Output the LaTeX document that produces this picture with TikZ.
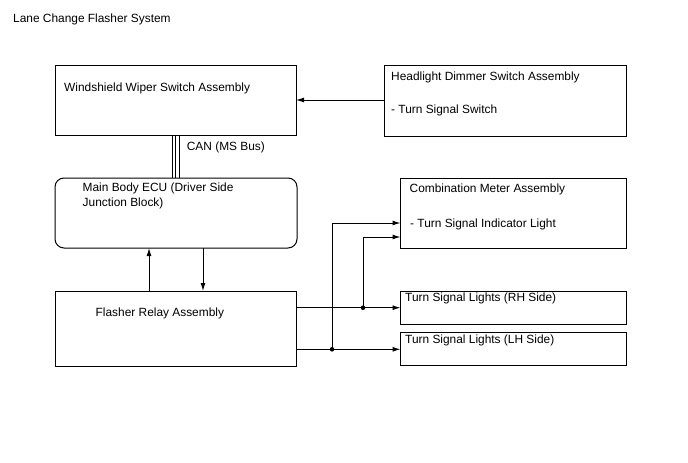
\documentclass[tikz,border=0pt]{standalone}
\usepackage{fontspec}
\setmainfont{Liberation Sans}
\usetikzlibrary{arrows.meta}
\begin{document}
\begin{tikzpicture}[x=1pt,y=-1pt,
  box/.style={draw=black,line width=1pt},
  wire/.style={draw=black,line width=1pt},
  arr/.style={wire,-{Latex[length=8pt,width=5pt]}},
  lbl/.style={anchor=base west,inner sep=0pt,font=\fontsize{11.9}{14}\selectfont},
  dot/.style={circle,fill=black,inner sep=0pt,minimum size=4.6pt}]
\useasboundingbox (0,0) rectangle (688,463);
\node[lbl] (title) at (13,22.5) {Lane Change Flasher System};

% boxes
\draw[box] (55,65) rectangle (296,135);
\node[lbl] (wsl) at (64,91) {Windshield Wiper Switch Assembly};

\draw[box] (384,65) rectangle (626,136);
\node[lbl] (hdl) at (391,80) {Headlight Dimmer Switch Assembly};
\node[lbl] (hdl2) at (391,113) {- Turn Signal Switch};

\draw[box,rounded corners=9pt] (55,178) rectangle (297,248);
\node[lbl] (ecu1) at (82.5,191) {Main Body ECU (Driver Side};
\node[lbl] (ecu2) at (82.5,206) {Junction Block)};

\draw[box] (55,291) rectangle (296.5,366);
\node[lbl] (frl) at (95.5,316.7) {Flasher Relay Assembly};

\draw[box] (400.5,178) rectangle (626,248);
\node[lbl] (cm1) at (409.5,192.7) {Combination Meter Assembly};
\node[lbl] (cm2) at (410,227.3) {- Turn Signal Indicator Light};

\draw[box] (400.5,291) rectangle (626,324.3);
\node[lbl] (rh) at (405,301.7) {Turn Signal Lights (RH Side)};

\draw[box] (400.5,332.3) rectangle (626,365.5);
\node[lbl] (lh) at (405,343.3) {Turn Signal Lights (LH Side)};

% headlight -> windshield
\coordinate (h1) at (384,100);
\coordinate (w1) at (296,100);
\draw[arr] (h1) -- (w1);

% CAN bus
\foreach \xx in {172,175.5,179}{
  \draw[wire] (\xx,135) -- (\xx,178);
}
\node[lbl] (can) at (186.7,150.7) {CAN (MS Bus)};

% ECU <-> relay
\coordinate (r1) at (149,291);
\coordinate (e1) at (149,248);
\coordinate (e2) at (203,248);
\coordinate (r2) at (203,291);
\draw[arr] (r1) -- (e1);
\draw[arr] (e2) -- (r2);

% relay -> lights
\coordinate (ra) at (296.5,307.7);
\coordinate (rha) at (400.5,307.7);
\coordinate (rb) at (296.5,349.3);
\coordinate (lha) at (400.5,349.3);
\coordinate (j1) at (363,307.7);
\coordinate (j2) at (332,349.3);
\coordinate (cma) at (400.5,223);
\coordinate (cmb) at (400.5,237);
\draw[arr] (ra) -- (rha);
\draw[arr] (rb) -- (lha);
\draw[arr] (j2) -- (332,223) -- (cma);
\draw[arr] (j1) -- (363,237) -- (cmb);
\node[dot] (d1) at (j1) {};
\node[dot] (d2) at (j2) {};
\end{tikzpicture}
\end{document}
